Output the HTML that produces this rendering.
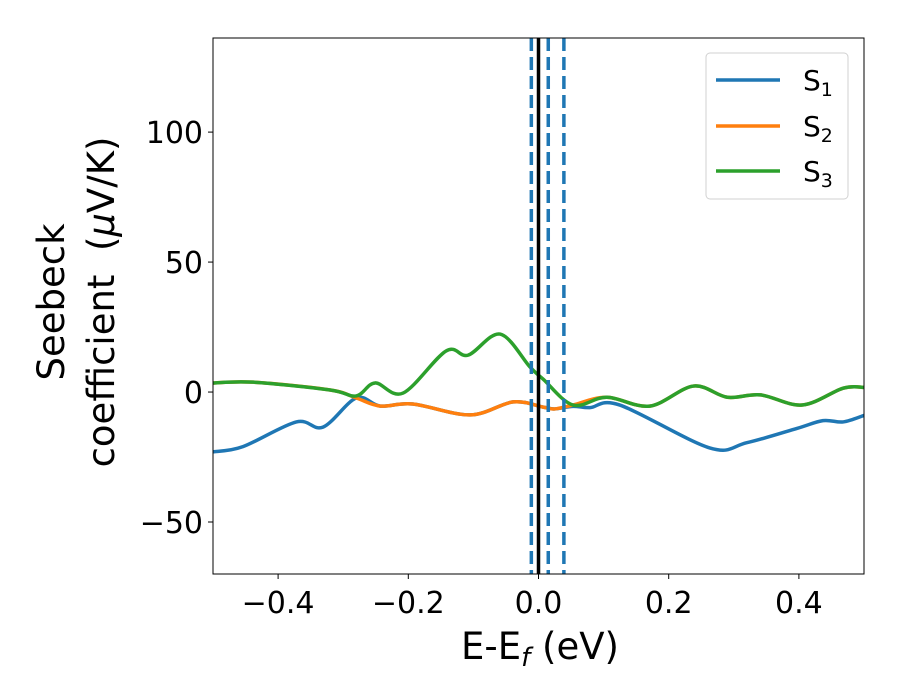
<!DOCTYPE html>
<html><head><meta charset="utf-8"><style>
body{margin:0;background:#fff}
svg{display:block;font-family:"DejaVu Sans","Liberation Sans",sans-serif}
</style></head><body>
<svg id="chart" width="900" height="700">
<g id="plot"></g>
<g id="axes"></g>
<text x="540" y="659" text-anchor="middle" font-size="37">E-E<tspan font-style="italic" font-size="26" dy="7">f</tspan><tspan dy="-7"> (eV)</tspan></text>
<g transform="translate(64,302) rotate(-90)">
<text x="0" y="0" text-anchor="middle" font-size="37">Seebeck</text>
<text x="0" y="50" text-anchor="middle" font-size="37" xml:space="preserve">coefficient  (<tspan font-style="italic">μ</tspan>V/K)</text>
</g>
<g>
<rect x="706" y="53" width="142" height="146" rx="4" fill="#fff" stroke="#ccc" opacity="0.9"/>
<line x1="716" x2="780" y1="80" y2="80" stroke="#1f77b4" stroke-width="3.5"/>
<text x="803" y="90" font-size="28">S<tspan font-size="19" dy="6">1</tspan></text>
<line x1="716" x2="780" y1="126" y2="126" stroke="#ff7f0e" stroke-width="3.5"/>
<text x="803" y="136" font-size="28">S<tspan font-size="19" dy="6">2</tspan></text>
<line x1="716" x2="780" y1="171" y2="171" stroke="#2ca02c" stroke-width="3.5"/>
<text x="803" y="181" font-size="28">S<tspan font-size="19" dy="6">3</tspan></text>
</g>
</svg>
<script>
const s1E=[-0.5,-0.454,-0.372,-0.331,-0.28,-0.243,-0.193,-0.105,-0.039,0.007,0.025,0.053,0.079,0.125,0.263,0.32,0.397,0.437,0.468,0.5];
const s1V=[-23,-21,-11.5,-13.5,-2.3,-5.4,-4.6,-8.8,-3.8,-5.8,-6.5,-5.5,-6,-5,-21.5,-19.5,-14,-11,-11.5,-9];
const s2E=[-0.5,-0.438,-0.32,-0.28,-0.243,-0.193,-0.105,-0.039,0.007,0.025,0.053,0.105,0.171,0.238,0.29,0.341,0.405,0.468,0.5];
const s2V=[3.5,3.8,0.8,-2.3,-5.4,-4.6,-8.8,-3.8,-5.8,-6.5,-5,-2,-5.4,2.3,-2,-1.1,-5,1.5,1.8];
const s3E=[-0.5,-0.438,-0.32,-0.28,-0.251,-0.208,-0.142,-0.108,-0.059,-0.013,0.007,0.053,0.105,0.171,0.238,0.29,0.341,0.405,0.468,0.5];
const s3V=[3.5,3.8,0.8,-1.5,3.5,-0.4,15.8,14.2,22.3,9.6,5,-5,-2,-5.4,2.3,-2,-1.1,-5,1.5,1.8];
const dashedE=[-0.011,0.015,0.039];
const xTicks=[-0.4,-0.2,0.0,0.2,0.4];
const xTickLabels=["−0.4","−0.2","0.0","0.2","0.4"];
const yTicks=[-50,0,50,100];
const yTickLabels=["−50","0","50","100"];
const X0=213,X1=864,Y0=38,Y1=574,xmin=-0.5,xmax=0.5,ymin=-70,ymax=136.2;
const xs=v=>X0+(v-xmin)/(xmax-xmin)*(X1-X0);
const ys=v=>Y1-(v-ymin)/(ymax-ymin)*(Y1-Y0);
const NS="http://www.w3.org/2000/svg";
const svg=document.getElementById('chart'),plot=document.getElementById('plot'),axes=document.getElementById('axes');
function mk(t,a,p){const e=document.createElementNS(NS,t);for(const k in a)e.setAttribute(k,a[k]);(p||svg).appendChild(e);return e;}
function path(E,V){const P=E.map((e,i)=>[xs(e),ys(V[i])]);let d=`M${P[0][0]},${P[0][1]}`;
for(let i=0;i<P.length-1;i++){const p0=P[Math.max(0,i-1)],p1=P[i],p2=P[i+1],p3=P[Math.min(P.length-1,i+2)];
d+=` C${p1[0]+(p2[0]-p0[0])/6},${p1[1]+(p2[1]-p0[1])/6} ${p2[0]-(p3[0]-p1[0])/6},${p2[1]-(p3[1]-p1[1])/6} ${p2[0]},${p2[1]}`;}return d;}
const defs=mk('defs',{});const cp=mk('clipPath',{id:'cp'},defs);
mk('rect',{x:X0,y:Y0,width:X1-X0,height:Y1-Y0},cp);
plot.setAttribute('clip-path','url(#cp)');
const series=[[s1E,s1V,'#1f77b4','s1-line'],[s2E,s2V,'#ff7f0e','s2-line'],[s3E,s3V,'#2ca02c','s3-line']];
series.forEach(s=>{const el=mk('path',{d:path(s[0],s[1]),fill:'none',stroke:s[2],'stroke-width':3.5},plot);

});
dashedE.forEach(e=>{const el=mk('line',{x1:xs(e),x2:xs(e),y1:Y0,y2:Y1,stroke:'#1f77b4','stroke-width':3.5,'stroke-dasharray':'13,6'},plot);

});
const fl=mk('line',{x1:xs(0),x2:xs(0),y1:Y0,y2:Y1,stroke:'#000','stroke-width':3.5},plot);


const fr=mk('rect',{x:X0,y:Y0,width:X1-X0,height:Y1-Y0,fill:'none',stroke:'#000','stroke-width':1},axes);


xTicks.forEach((t,i)=>{mk('line',{x1:xs(t),x2:xs(t),y1:Y1,y2:Y1+5,stroke:'#000'},axes);
const tx=mk('text',{x:xs(t),y:Y1+39,'text-anchor':'middle','font-size':30},axes);tx.textContent=xTickLabels[i];

});
yTicks.forEach((t,i)=>{mk('line',{x1:X0-5,x2:X0,y1:ys(t),y2:ys(t),stroke:'#000'},axes);
const tx=mk('text',{x:X0-10,y:ys(t)+11,'text-anchor':'end','font-size':30},axes);tx.textContent=yTickLabels[i];

});
</script>
</body></html>
